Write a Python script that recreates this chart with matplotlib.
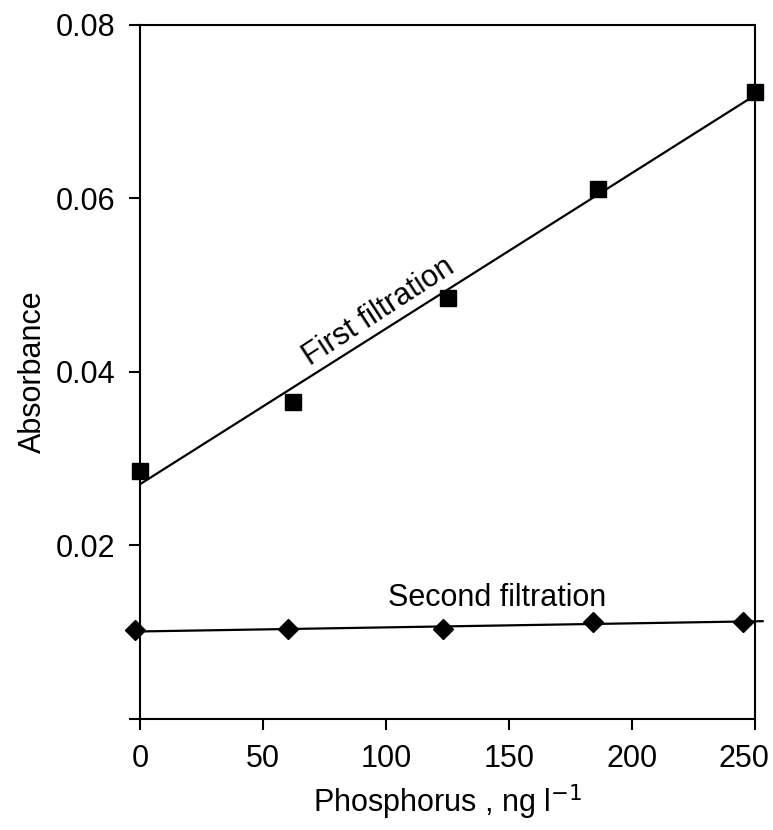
import numpy as np
import matplotlib.pyplot as plt
from matplotlib.transforms import ScaledTranslation

plt.rcParams['font.family'] = ['Liberation Sans', 'DejaVu Sans']

# first filtration (squares)
p_first = [0, 62, 125, 186, 250]
abs_first = [0.0286, 0.0365, 0.0485, 0.0611, 0.0723]

# second filtration (diamonds)
p_second = [-2, 60, 123, 184, 245]
abs_second = [0.0102, 0.0103, 0.0103, 0.0112, 0.0112]

yticks = [0, 0.02, 0.04, 0.06, 0.08]
ytick_labels = ['', '0.02', '0.04', '0.06', '0.08']
xticks = [0, 50, 100, 150, 200, 250]

fig = plt.figure(figsize=(7.73, 8.30), dpi=100)
ax = fig.add_axes([0.181, 0.134, 0.796, 0.836])

# linear fits
xf = np.array([0, 250])
k1, b1 = np.polyfit(p_first, abs_first, 1)
ax.plot(xf, k1 * xf + b1, color='black', lw=1.6, zorder=2)
xs = np.array([-2, 253])
k2, b2 = np.polyfit(p_second, abs_second, 1)
ax.plot(xs, k2 * xs + b2, color='black', lw=1.6, zorder=2, clip_on=False)

ax.plot(p_first, abs_first, 's', color='black', ms=11.5, zorder=3, clip_on=False)
ax.plot(p_second, abs_second, 'D', color='black', ms=10, zorder=3, clip_on=False)

ax.text(97, 0.0469, 'First filtration', fontsize=22, rotation=33,
        ha='center', va='center', rotation_mode='anchor')
ax.text(145, 0.0139, 'Second filtration', fontsize=22, ha='center', va='center')

ax.set_xlim(0, 250)
ax.set_ylim(0, 0.08)
ax.set_xticks(xticks)
ax.set_yticks(yticks)
ax.set_yticklabels(ytick_labels)
ax.tick_params(labelsize=22, length=8, width=1.5, direction='out', pad=10)
for s in ax.spines.values():
    s.set_linewidth(1.5)

# last x label sits a bit left of its tick
lab = ax.get_xticklabels()[-1]
lab.set_transform(lab.get_transform() + ScaledTranslation(-0.11, 0, fig.dpi_scale_trans))

ax.set_xlabel('Phosphorus , ng l$^{-1}$', fontsize=22, labelpad=6)
ax.set_ylabel('Absorbance', fontsize=22, labelpad=5)

fig.savefig('out.png', dpi=100)
